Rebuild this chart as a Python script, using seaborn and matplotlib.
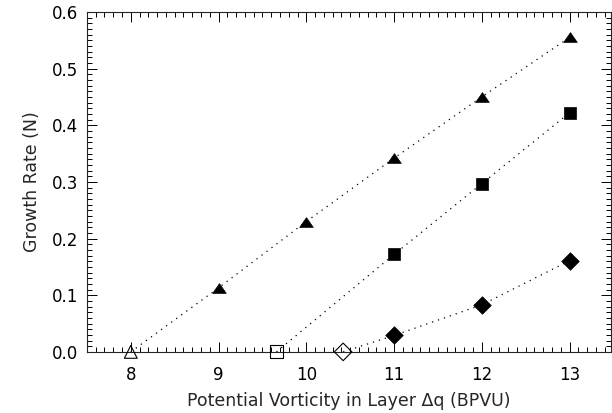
import numpy as np
import pandas as pd
import matplotlib
matplotlib.use("Agg")
import matplotlib.pyplot as plt
import seaborn as sns
from matplotlib.ticker import MultipleLocator, FormatStrFormatter

# growth rate against PV in the layer, three cases
# first point of each case is the onset (open marker, growth rate zero)
tri_x = [8, 9, 10, 11, 12, 13]
tri_y = [0.0, 0.113, 0.230, 0.342, 0.450, 0.555]
sq_x = [9.66, 11, 12, 13]
sq_y = [0.0, 0.172, 0.297, 0.422]
dia_x = [10.42, 11, 12, 13]
dia_y = [0.0, 0.029, 0.083, 0.161]

x_ticks = [8, 9, 10, 11, 12, 13]
y_ticks = [0.0, 0.1, 0.2, 0.3, 0.4, 0.5, 0.6]

sns.set_style("ticks")
plt.rcParams['font.family'] = ['DejaVu Sans']

fig = plt.figure(figsize=(6.12, 4.13), dpi=100)
ax = fig.add_axes([0.142, 0.148, 0.856, 0.823])

# flat triangle like the IDL symbol
flat_tri = [(-1, -0.72), (1, -0.72), (0, 0.72), (-1, -0.72)]

series = [
    (tri_x, tri_y, flat_tri, '^', 95, 85),
    (sq_x, sq_y, 's', 's', 82, 88),
    (dia_x, dia_y, 'D', 'D', 80, 80),
]
dots = (0, (1, 4))
for xs, ys, mk_full, mk_open, s_full, s_open in series:
    sns.lineplot(x=xs, y=ys, ax=ax, color='black', lw=0.9, linestyle=dots,
                 estimator=None, sort=False, zorder=2)
    sns.scatterplot(x=xs[1:], y=ys[1:], ax=ax, marker=mk_full, s=s_full,
                    color='black', edgecolor='black', linewidth=0.5, zorder=3)
    sns.scatterplot(x=xs[:1], y=ys[:1], ax=ax, marker=mk_open, s=s_open,
                    facecolor='none', edgecolor='black', linewidth=0.8,
                    zorder=3, clip_on=False)

ax.set_xlim(7.5, 13.47)
ax.set_ylim(0, 0.6)
ax.set_xticks(x_ticks)
ax.set_yticks(y_ticks)
ax.yaxis.set_major_formatter(FormatStrFormatter('%.1f'))
ax.xaxis.set_minor_locator(MultipleLocator(0.1))
ax.yaxis.set_minor_locator(MultipleLocator(0.01))
ax.tick_params(which='both', direction='in', top=True, right=True, width=0.7,
               labelsize=12, colors='black')
ax.tick_params(which='major', length=7)
ax.tick_params(which='minor', length=3.5)
ax.tick_params(axis='x', pad=10)
ax.tick_params(axis='y', pad=6)
for sp in ax.spines.values():
    sp.set_linewidth(0.8)
    sp.set_visible(True)

ax.set_xlabel('Potential Vorticity in Layer \u0394q (BPVU)', fontsize=12.5, labelpad=6)
ax.set_ylabel('Growth Rate (N)', fontsize=12.5, labelpad=8)

fig.savefig('out.png', dpi=100)
